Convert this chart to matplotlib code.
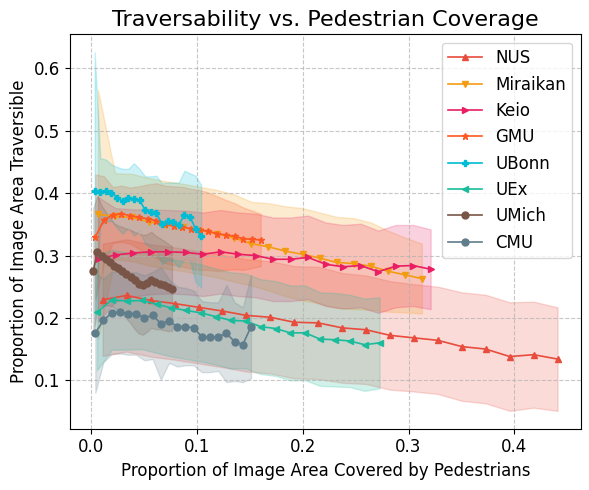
import numpy as np
import matplotlib
matplotlib.use("Agg")
import matplotlib.pyplot as plt

# DATA (binned means and std per site)

names = ["NUS", "Miraikan", "Keio", "GMU", "UBonn", "UEx", "UMich", "CMU"]
colors = ["#e74c3c", "#f39c12", "#e91e63", "#ff5722", "#00bcd4", "#1abc9c", "#795548", "#607d8b"]
markers = ["^", "v", ">", "*", "P", "<", "o", "o"]

nus_x = [0.0108, 0.0334, 0.0561, 0.0787, 0.1014, 0.1240, 0.1466, 0.1693, 0.1919, 0.2146,
         0.2372, 0.2598, 0.2825, 0.3051, 0.3278, 0.3504, 0.3730, 0.3957, 0.4183, 0.4409]
nus_y = [0.229, 0.236, 0.228, 0.223, 0.217, 0.211, 0.204, 0.201, 0.193, 0.192,
         0.184, 0.181, 0.172, 0.168, 0.164, 0.154, 0.150, 0.138, 0.141, 0.134]
nus_sd = [0.090, 0.090, 0.090, 0.090, 0.090, 0.090, 0.090, 0.090, 0.090, 0.090,
          0.088, 0.087, 0.087, 0.086, 0.086, 0.087, 0.087, 0.087, 0.085, 0.083]

mir_x = [0.0063, 0.0224, 0.0385, 0.0547, 0.0708, 0.0869, 0.1030, 0.1191, 0.1353, 0.1514,
         0.1675, 0.1836, 0.1998, 0.2159, 0.2320, 0.2481, 0.2643, 0.2804, 0.2965, 0.3126]
mir_y = [0.366, 0.363, 0.361, 0.354, 0.349, 0.345, 0.340, 0.335, 0.328, 0.319,
         0.314, 0.307, 0.302, 0.296, 0.289, 0.287, 0.283, 0.275, 0.269, 0.263]
mir_sd = [0.200, 0.069, 0.070, 0.070, 0.070, 0.070, 0.070, 0.070, 0.070, 0.067,
          0.070, 0.072, 0.074, 0.073, 0.073, 0.073, 0.070, 0.065, 0.060, 0.056]

keio_x = [0.0063, 0.0229, 0.0395, 0.0560, 0.0726, 0.0891, 0.1057, 0.1223, 0.1388, 0.1554,
          0.1719, 0.1885, 0.2050, 0.2216, 0.2382, 0.2547, 0.2713, 0.2878, 0.3044, 0.3209]
keio_y = [0.294, 0.301, 0.304, 0.306, 0.306, 0.305, 0.302, 0.306, 0.302, 0.300,
          0.294, 0.294, 0.297, 0.286, 0.282, 0.284, 0.274, 0.283, 0.284, 0.278]
keio_sd = [0.100, 0.075, 0.070, 0.068, 0.067, 0.067, 0.067, 0.067, 0.067, 0.067,
           0.067, 0.067, 0.067, 0.067, 0.067, 0.067, 0.066, 0.066, 0.065, 0.064]

gmu_x = [0.0038, 0.0120, 0.0202, 0.0285, 0.0367, 0.0449, 0.0532, 0.0614, 0.0696, 0.0779,
         0.0861, 0.0943, 0.1026, 0.1108, 0.1190, 0.1273, 0.1355, 0.1437, 0.1520, 0.1602]
gmu_y = [0.330, 0.357, 0.365, 0.367, 0.364, 0.361, 0.359, 0.356, 0.350, 0.348,
         0.346, 0.343, 0.341, 0.339, 0.335, 0.333, 0.331, 0.327, 0.326, 0.325]
gmu_sd = [0.100, 0.070, 0.045, 0.045, 0.045, 0.050, 0.055, 0.060, 0.062, 0.063,
          0.064, 0.064, 0.064, 0.062, 0.060, 0.056, 0.053, 0.050, 0.046, 0.042]

ubonn_x = [0.0032, 0.0085, 0.0138, 0.0191, 0.0244, 0.0297, 0.0350, 0.0403, 0.0456, 0.0509,
           0.0562, 0.0615, 0.0668, 0.0721, 0.0774, 0.0827, 0.0880, 0.0933, 0.0986, 0.1039]
ubonn_y = [0.404, 0.402, 0.404, 0.401, 0.393, 0.387, 0.392, 0.390, 0.389, 0.373,
           0.370, 0.368, 0.351, 0.355, 0.354, 0.349, 0.365, 0.362, 0.343, 0.331]
ubonn_sd = [0.222, 0.054, 0.050, 0.045, 0.049, 0.052, 0.047, 0.058, 0.050, 0.054,
            0.057, 0.060, 0.065, 0.062, 0.063, 0.068, 0.071, 0.070, 0.085, 0.082]

uex_x = [0.0054, 0.0195, 0.0335, 0.0476, 0.0617, 0.0757, 0.0898, 0.1038, 0.1179, 0.1320,
         0.1460, 0.1601, 0.1742, 0.1882, 0.2023, 0.2163, 0.2304, 0.2445, 0.2585, 0.2726]
uex_y = [0.209, 0.229, 0.227, 0.228, 0.222, 0.216, 0.212, 0.208, 0.202, 0.196,
         0.195, 0.186, 0.183, 0.176, 0.176, 0.166, 0.165, 0.163, 0.157, 0.160]
uex_sd = [0.093, 0.080, 0.078, 0.078, 0.078, 0.078, 0.078, 0.078, 0.077, 0.077,
          0.076, 0.076, 0.076, 0.076, 0.076, 0.075, 0.075, 0.074, 0.074, 0.073]

umich_x = [0.0019, 0.0058, 0.0097, 0.0137, 0.0176, 0.0215, 0.0254, 0.0293, 0.0332, 0.0372,
           0.0411, 0.0450, 0.0489, 0.0528, 0.0567, 0.0607, 0.0646, 0.0685, 0.0724, 0.0763]
umich_y = [0.276, 0.306, 0.300, 0.295, 0.290, 0.284, 0.280, 0.276, 0.271, 0.266,
           0.260, 0.255, 0.253, 0.256, 0.261, 0.257, 0.255, 0.252, 0.249, 0.247]
umich_sd = [0.100, 0.090, 0.080, 0.075, 0.070, 0.068, 0.068, 0.070, 0.072, 0.075,
            0.078, 0.080, 0.080, 0.078, 0.077, 0.075, 0.073, 0.072, 0.070, 0.068]

cmu_x = [0.0038, 0.0115, 0.0193, 0.0270, 0.0348, 0.0425, 0.0503, 0.0580, 0.0658, 0.0735,
         0.0813, 0.0890, 0.0968, 0.1045, 0.1123, 0.1200, 0.1278, 0.1355, 0.1433, 0.1510]
cmu_y = [0.176, 0.196, 0.208, 0.209, 0.207, 0.207, 0.200, 0.204, 0.191, 0.195,
         0.186, 0.186, 0.184, 0.170, 0.169, 0.170, 0.175, 0.162, 0.157, 0.186]
cmu_sd = [0.096, 0.067, 0.066, 0.066, 0.066, 0.066, 0.068, 0.070, 0.090, 0.067,
          0.064, 0.062, 0.060, 0.057, 0.056, 0.055, 0.078, 0.063, 0.060, 0.083]

xs = [nus_x, mir_x, keio_x, gmu_x, ubonn_x, uex_x, umich_x, cmu_x]
ys = [nus_y, mir_y, keio_y, gmu_y, ubonn_y, uex_y, umich_y, cmu_y]
sds = [nus_sd, mir_sd, keio_sd, gmu_sd, ubonn_sd, uex_sd, umich_sd, cmu_sd]


# PLOT

fig, ax = plt.subplots(figsize=(5.89, 4.9), dpi=100)
fig.subplots_adjust(left=0.119, right=0.986, bottom=0.125, top=0.93)

for name, c, m, x, y, sd in zip(names, colors, markers, xs, ys, sds):
    x = np.array(x)
    y = np.array(y)
    sd = np.array(sd)
    ax.plot(x, y, marker=m, color=c, label=name, linewidth=1.2, markersize=5)
    ax.fill_between(x, y - sd, y + sd, color=c, alpha=0.2)

ax.set_title("Traversability vs. Pedestrian Coverage", fontsize=16)
ax.set_xlabel("Proportion of Image Area Covered by Pedestrians", fontsize=12)
ax.set_ylabel("Proportion of Image Area Traversible", fontsize=12)
ax.tick_params(labelsize=12)
ax.grid(True, linestyle="--", alpha=0.7)
ax.legend(loc="upper right", fontsize=12)

fig.savefig("out.png")
